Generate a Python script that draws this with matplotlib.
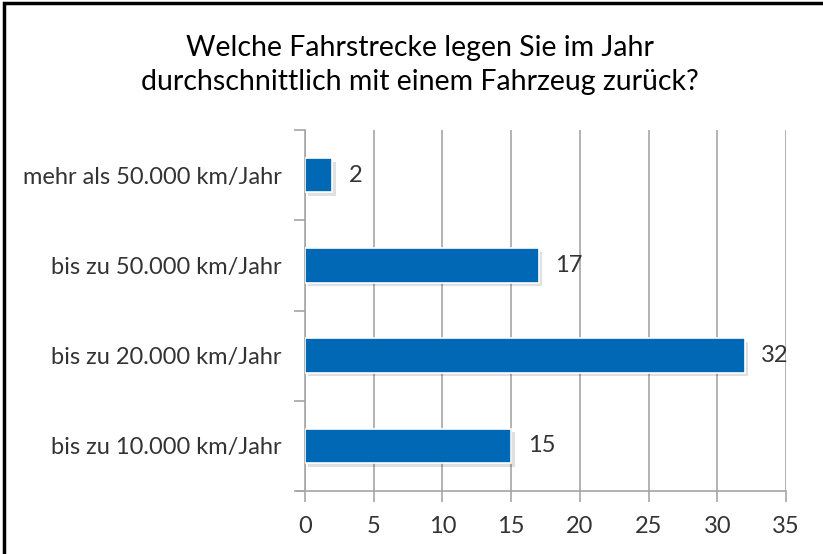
import numpy as np
import matplotlib
matplotlib.use('Agg')
from matplotlib import pyplot as plt
from matplotlib.patches import Rectangle

# daten
kategorien = ['bis zu 10.000 km/Jahr', 'bis zu 20.000 km/Jahr',
              'bis zu 50.000 km/Jahr', 'mehr als 50.000 km/Jahr']
werte = [15, 32, 17, 2]
titel = 'Welche Fahrstrecke legen Sie im Jahr\ndurchschnittlich mit einem Fahrzeug zurück?'
xticks = [0, 5, 10, 15, 20, 25, 30, 35]

plt.rcParams['font.family'] = ['Lato', 'DejaVu Sans']

fig = plt.figure(figsize=(8.23, 5.54), dpi=100)
ax = fig.add_axes([305 / 823, 1 - 491 / 554, 481 / 823, 361 / 554])

pos = np.arange(len(kategorien))
hoehe = 0.38
blau = '#0068B4'
grau = '#A6A6A6'
textfarbe = '#333333'

# schatten
ax.barh(pos - 0.04, werte, height=hoehe, left=0.25, color='#000000', alpha=0.12,
        zorder=2)
ax.barh(pos, werte, height=hoehe, color=blau, edgecolor='white', linewidth=1.2,
        zorder=3)

for p, w in zip(pos, werte):
    ax.text(w + 1.2, p, str(w), va='center', ha='left', fontsize=17,
            color=textfarbe, zorder=4)

ax.set_xlim(0, 35)
ax.set_ylim(-0.5, len(kategorien) - 0.5)
ax.set_xticks(xticks)
ax.set_xticklabels([str(t) for t in xticks], fontsize=17, color=textfarbe)
ax.set_yticks(pos)
ax.set_yticklabels(kategorien, fontsize=17, color=textfarbe)
ax.set_yticks(np.arange(-0.5, len(kategorien)), minor=True)
ax.tick_params(axis='y', which='major', length=0, pad=17)
ax.tick_params(axis='y', which='minor', length=8, color=grau, width=1.2)
ax.tick_params(axis='x', length=8, color=grau, width=1.2, direction='out', pad=10)
ax.xaxis.grid(True, color=grau, linewidth=1.2, zorder=0)
ax.set_axisbelow(True)
for s in ['top', 'right']:
    ax.spines[s].set_visible(False)
ax.spines['left'].set_color(grau)
ax.spines['left'].set_linewidth(1.2)
ax.spines['bottom'].set_color(grau)
ax.spines['bottom'].set_linewidth(1.2)
ax.spines['bottom'].set_bounds(-0.6, 35)

fig.text(0.51, 1 - 65 / 554, titel, ha='center', va='center', fontsize=20.5,
         color='#000000', linespacing=1.4)

# rahmen
fig.patches.append(Rectangle((4 / 823, -0.1), 1.2, 1 - 3 / 554 + 0.1,
                             transform=fig.transFigure, fill=False,
                             edgecolor='black', linewidth=2.5))

fig.savefig('out.png', dpi=100)
